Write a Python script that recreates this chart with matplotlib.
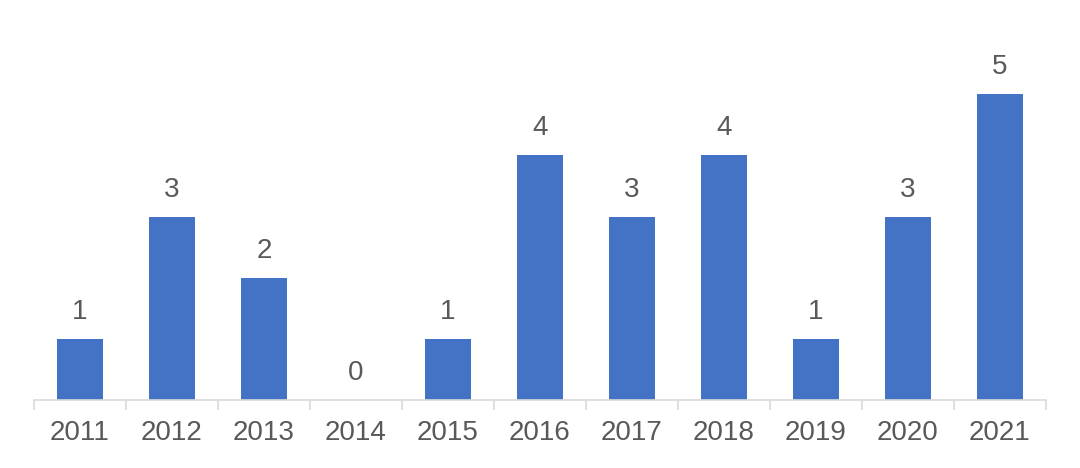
import matplotlib.pyplot as plt
import numpy as np

years = ['2011', '2012', '2013', '2014', '2015', '2016', '2017', '2018', '2019', '2020', '2021']
counts = [1, 3, 2, 0, 1, 4, 3, 4, 1, 3, 5]

plt.rcParams['font.family'] = ['Liberation Sans', 'DejaVu Sans']

fig = plt.figure(figsize=(10.8, 4.68), dpi=100)
ax = fig.add_axes([34 / 1080, 68 / 468, 1012 / 1080, 367 / 468])

x = np.arange(len(years))
bars = ax.bar(x, counts, width=0.5, color='#4472C4')

for xi, v in zip(x, counts):
    ax.annotate(str(v), (xi, v), xytext=(0, 10), textcoords='offset points',
                ha='center', va='bottom', fontsize=20, color='#595959')

ax.set_xlim(-0.5, len(years) - 0.5)
ax.set_ylim(0, 6)
ax.set_xticks(x)
ax.set_xticklabels(years)
ax.set_xticks(np.arange(-0.5, len(years)), minor=True)
ax.tick_params(axis='x', which='major', length=0, pad=14.5, labelsize=20, labelcolor='#595959')
ax.tick_params(axis='x', which='minor', length=7, color='#D9D9D9', width=1.2)
ax.set_yticks([])
for s in ['top', 'right', 'left']:
    ax.spines[s].set_visible(False)
ax.spines['bottom'].set_color('#D9D9D9')
ax.spines['bottom'].set_linewidth(1.2)

fig.savefig('out.png', dpi=100)
